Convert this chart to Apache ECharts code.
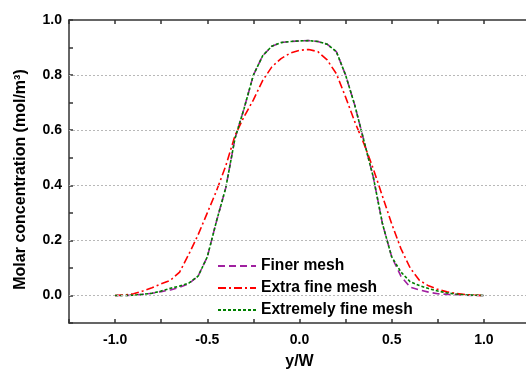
<!DOCTYPE html>
<html>
<head>
<meta charset="utf-8">
<script src="https://cdn.jsdelivr.net/npm/echarts@6/dist/echarts.min.js"></script>
<style>
    html, body { margin: 0; padding: 0; background: #fff; }
    #chart { width: 526px; height: 374px; }
</style>
</head>
<body>
<div id="chart"></div>
<script>
// y/W positions shared by all three curves
var xPos = [-1.0, -0.95, -0.9, -0.85, -0.8, -0.75, -0.7, -0.65, -0.6, -0.55, -0.5,
    -0.45, -0.4, -0.35, -0.3, -0.25, -0.2, -0.15, -0.1, -0.05, 0,
    0.05, 0.1, 0.15, 0.2, 0.25, 0.3, 0.35, 0.4, 0.45, 0.5,
    0.55, 0.6, 0.65, 0.7, 0.75, 0.8, 0.85, 0.9, 0.95, 1.0];

var finerMesh = [0, 0, 0.001, 0.004, 0.008, 0.014, 0.02, 0.03, 0.043, 0.07, 0.14,
    0.27, 0.39, 0.57, 0.68, 0.80, 0.87, 0.905, 0.918, 0.922, 0.924,
    0.925, 0.922, 0.912, 0.885, 0.80, 0.69, 0.56, 0.43, 0.26, 0.14,
    0.07, 0.03, 0.02, 0.012, 0.006, 0.004, 0.003, 0.001, 0, 0];

var extraFineMesh = [0, 0.002, 0.006, 0.016, 0.028, 0.042, 0.055, 0.085, 0.15, 0.22, 0.30,
    0.38, 0.47, 0.58, 0.65, 0.71, 0.78, 0.83, 0.86, 0.88, 0.89,
    0.893, 0.885, 0.855, 0.805, 0.72, 0.63, 0.55, 0.46, 0.36, 0.26,
    0.17, 0.10, 0.055, 0.035, 0.022, 0.013, 0.007, 0.003, 0.001, 0];

var extremelyFineMesh = [0, 0, 0.001, 0.004, 0.008, 0.016, 0.026, 0.034, 0.045, 0.07, 0.14,
    0.27, 0.39, 0.57, 0.68, 0.80, 0.87, 0.905, 0.918, 0.922, 0.924,
    0.925, 0.922, 0.912, 0.885, 0.80, 0.69, 0.56, 0.43, 0.26, 0.14,
    0.085, 0.05, 0.036, 0.025, 0.016, 0.009, 0.005, 0.002, 0.001, 0];

var gridValues = [0, 0.2, 0.4, 0.6, 0.8];

var FONT = 'Liberation Sans, Arial, sans-serif';

function pairs(ys) {
    var out = [];
    for (var i = 0; i < xPos.length; i++) {
        out.push([xPos[i], ys[i]]);
    }
    return out;
}

function isStep(v, step) {
    var k = v / step;
    return Math.abs(k - Math.round(k)) < 1e-6;
}

var axisLine = { show: true, onZero: false, lineStyle: { color: '#333', width: 1.5 } };

var option = {
    animation: false,
    backgroundColor: '#fff',
    grid: { left: 69, right: -4, top: 20, bottom: 51, outerBoundsMode: 'none', containLabel: false },
    legend: {
        orient: 'vertical',
        left: 217,
        top: 258,
        padding: 0,
        itemWidth: 38,
        itemHeight: 14,
        itemGap: 6,
        itemStyle: { opacity: 0 },
        textStyle: { fontFamily: FONT, fontSize: 15.6, fontWeight: 'bold', color: '#000' },
        data: ['Finer mesh', 'Extra fine mesh', 'Extremely fine mesh']
    },
    xAxis: [
        {
            type: 'value', position: 'bottom',
            min: -1.25, max: 1.25, interval: 0.25,
            name: 'y/W', nameLocation: 'middle', nameGap: 31,
            nameTextStyle: { fontFamily: FONT, fontSize: 16, fontWeight: 'bold', color: '#000' },
            axisLine: axisLine,
            axisTick: { inside: true, length: 4, lineStyle: { color: '#333', width: 1.5 } },
            axisLabel: {
                margin: 10, fontFamily: FONT, fontSize: 14, fontWeight: 'bold', color: '#000',
                formatter: function (v) { return isStep(v, 0.5) ? v.toFixed(1) : ''; }
            },
            splitLine: { show: false }
        },
        {
            type: 'value', position: 'top',
            min: -1.25, max: 1.25, interval: 0.25,
            axisLine: axisLine,
            axisTick: { inside: true, length: 4, lineStyle: { color: '#333', width: 1.5 } },
            axisLabel: { show: false },
            splitLine: { show: false }
        }
    ],
    yAxis: [
        {
            type: 'value', position: 'left',
            min: -0.1, max: 1.0, interval: 0.1,
            name: 'Molar concentration (mol/m³)', nameLocation: 'middle', nameGap: 40,
            nameTextStyle: { fontFamily: FONT, fontSize: 16, fontWeight: 'bold', color: '#000', padding: [0, 16, 0, 0] },
            axisLine: axisLine,
            axisTick: { inside: true, length: 4, lineStyle: { color: '#333', width: 1.5 } },
            axisLabel: {
                margin: 7, fontFamily: FONT, fontSize: 14, fontWeight: 'bold', color: '#000',
                formatter: function (v) { return (v > -0.01 && isStep(v, 0.2)) ? v.toFixed(1) : ''; }
            },
            splitLine: { show: false }
        },
        {
            type: 'value', position: 'right',
            min: -0.1, max: 1.0, interval: 0.1,
            axisLine: axisLine,
            axisTick: { inside: true, length: 4 },
            axisLabel: { show: false },
            splitLine: { show: false }
        }
    ],
    series: [
        {
            name: 'grid',
            type: 'line',
            data: [],
            z: 1,
            markLine: {
                silent: true,
                symbol: 'none',
                label: { show: false },
                lineStyle: { color: '#b8b8b8', type: [2, 2], width: 1 },
                data: gridValues.map(function (v) { return { yAxis: v }; })
            }
        },
        {
            name: 'Finer mesh',
            type: 'line',
            z: 2,
            symbol: 'none',
            data: pairs(finerMesh),
            lineStyle: { color: '#a020a0', width: 1.6, type: [7, 4] },
            itemStyle: { color: '#a020a0' }
        },
        {
            name: 'Extra fine mesh',
            type: 'line',
            z: 3,
            symbol: 'none',
            data: pairs(extraFineMesh),
            lineStyle: { color: '#ff0000', width: 1.6, type: [8, 3, 2, 3] },
            itemStyle: { color: '#ff0000' }
        },
        {
            name: 'Extremely fine mesh',
            type: 'line',
            z: 4,
            symbol: 'none',
            data: pairs(extremelyFineMesh),
            lineStyle: { color: '#008000', width: 1.6, type: [3, 2] },
            itemStyle: { color: '#008000' }
        }
    ]
};

var chart = echarts.init(document.getElementById('chart'), null, { renderer: 'canvas' });
chart.setOption(option);
</script>
</body>
</html>
